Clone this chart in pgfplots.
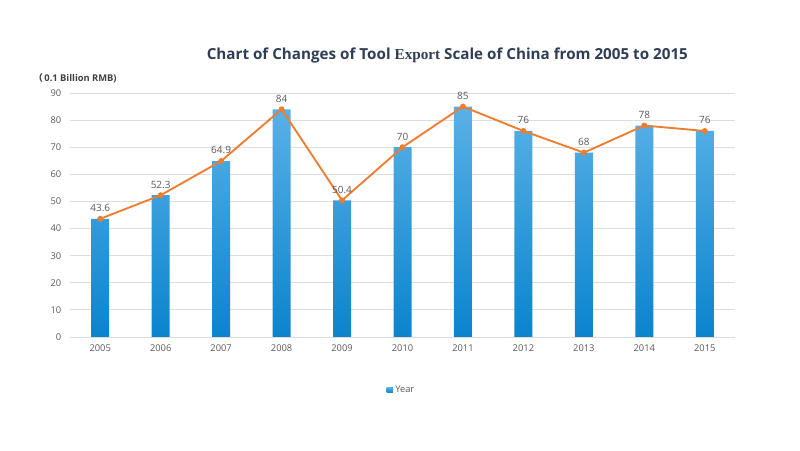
\documentclass[border=0pt]{standalone}
\usepackage{pgfplots}
\pgfplotsset{compat=1.18}
\usepackage{fontspec}
\setmainfont{Open Sans}
\newfontfamily\cjk{Noto Sans CJK SC}
\newfontfamily\serifx{Liberation Serif}
\definecolor{tickgray}{HTML}{595959}
\definecolor{gridgray}{HTML}{DDDDDD}
\definecolor{barlight}{HTML}{5AB1E6}
\definecolor{bardark}{HTML}{0A84CE}
\definecolor{lineorange}{HTML}{ED7D31}
\definecolor{titleblue}{HTML}{2F3D55}
\definecolor{labeldark}{HTML}{404040}

\begin{document}
\begin{tikzpicture}
% canvas 600pt x 337.5pt
\useasboundingbox (0,0) rectangle (600pt,337.5pt);
\node[font=\bfseries\fontsize{11.4}{14}\selectfont, text=titleblue]
  at (335.5pt,296pt) {Chart of Changes of Tool {\serifx Export} Scale of China from 2005 to 2015};
\node[anchor=west, font=\bfseries\fontsize{7}{8}\selectfont, text=labeldark, inner sep=0pt]
  at (25pt,279pt) {{\cjk （}\,0.1 Billion RMB)};
\begin{axis}[
  at={(52.5pt,84.75pt)}, anchor=south west,
  scale only axis, width=498.75pt, height=183pt,
  xmin=-0.5, xmax=10.5, ymin=0, ymax=90,
  xtick={0,...,10},
  xticklabels={2005,2006,2007,2008,2009,2010,2011,2012,2013,2014,2015},
  ytick={0,10,...,90},
  /pgf/number format/assume math mode=true,
  axis x line*=bottom, axis y line*=left,
  x axis line style={gridgray, line width=0.6pt},
  y axis line style={draw=none},
  major tick length=0pt,
  ymajorgrids, grid style={gridgray, line width=0.6pt},
  tick label style={font=\fontsize{7}{8}\selectfont, text=tickgray},
  yticklabel style={xshift=-3pt},
  xticklabel style={yshift=-2pt},
  legend style={at={(0.499,-0.217)}, anchor=center, draw=none, fill=none,
    font=\fontsize{7}{8}\selectfont, text=tickgray},
  legend image code/.code={\fill[bardark] (0pt,-2.2pt) rectangle (4.4pt,2.2pt);},
  clip=false,
]
\addplot[ybar, bar width=13.5pt, draw=none, top color=barlight, bottom color=bardark]
  coordinates {(0,43.6) (1,52.3) (2,64.9) (3,84) (4,50.4) (5,70) (6,85) (7,76) (8,68) (9,78) (10,76)};
\addlegendentry{Year}
\addplot[lineorange, line width=1.4pt, mark=*, mark size=1.5pt,
  mark options={fill=lineorange, draw=lineorange},
  nodes near coords, point meta=explicit symbolic,
  every node near coord/.append style={font=\fontsize{7.5}{8}\selectfont, text=tickgray, anchor=south, yshift=1.2pt},
  forget plot]
  coordinates {(0,43.6)[43.6] (1,52.3)[52.3] (2,64.9)[64.9] (3,84)[84] (4,50.4)[50.4] (5,70)[70] (6,85)[85] (7,76)[76] (8,68)[68] (9,78)[78] (10,76)[76]};
\end{axis}
\end{tikzpicture}
\end{document}
